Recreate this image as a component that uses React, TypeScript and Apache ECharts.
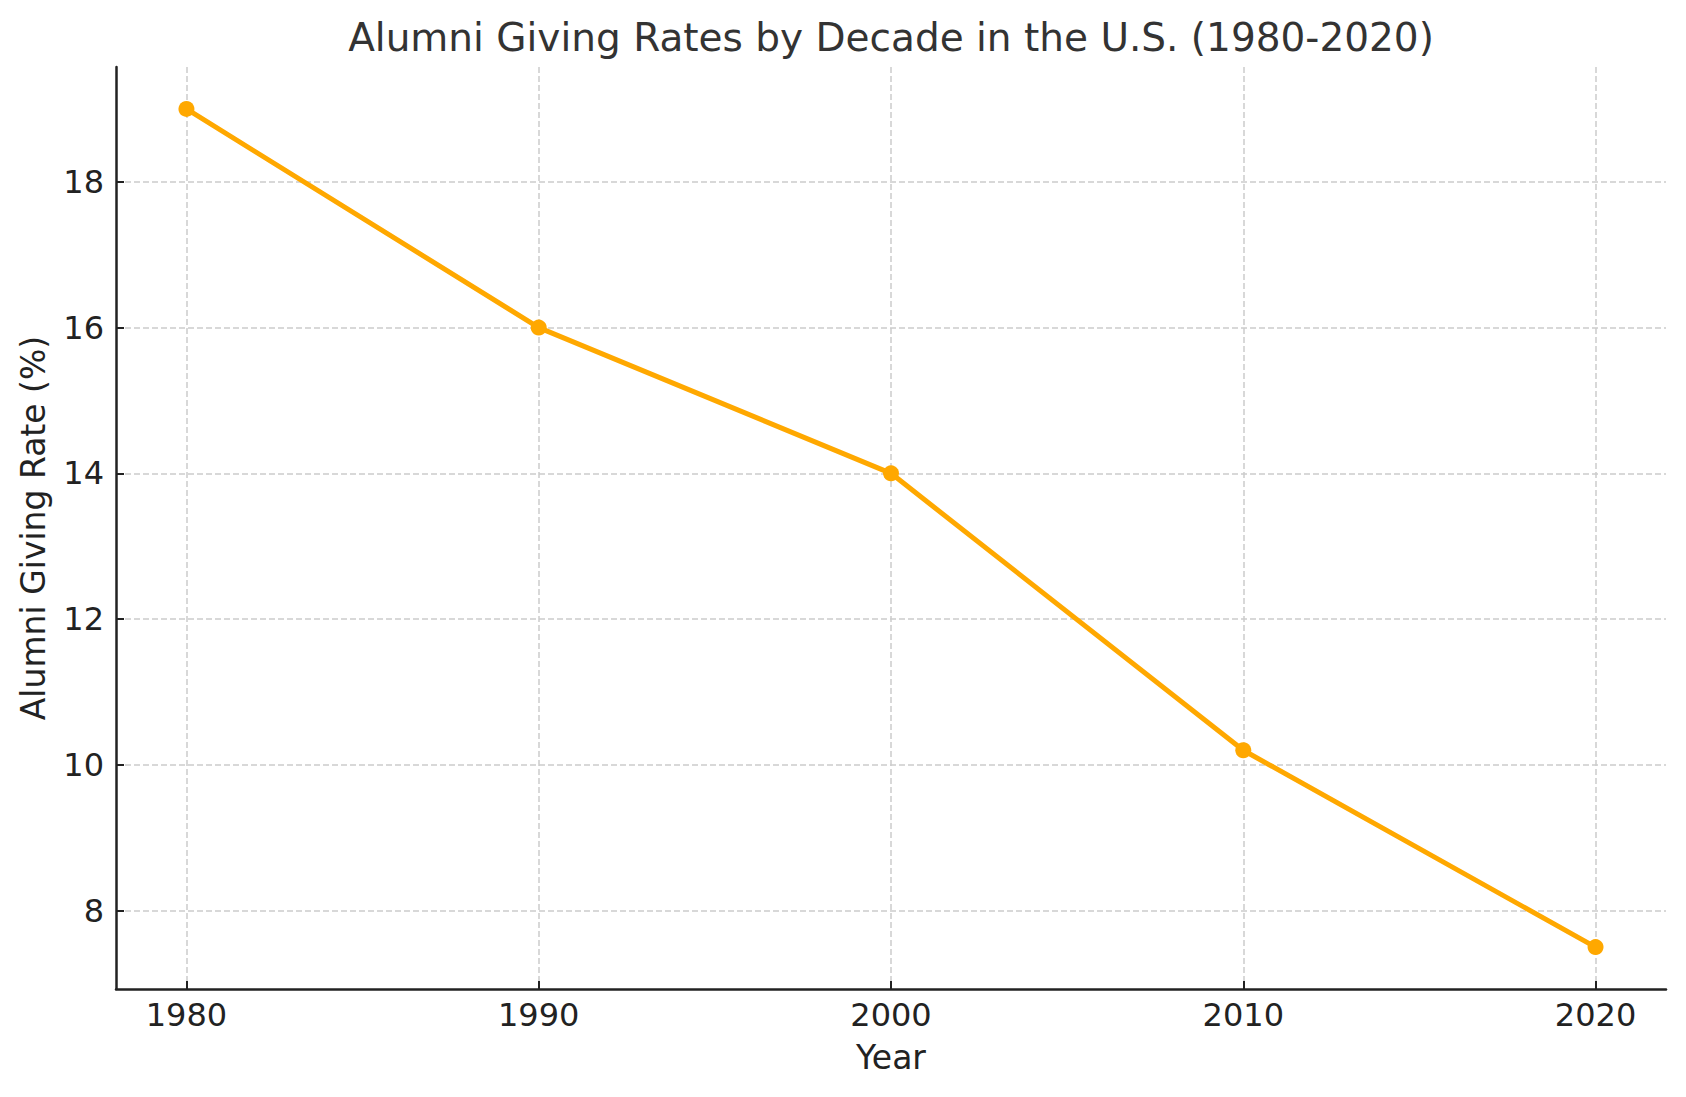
import React, { useEffect, useRef } from "react";
import * as echarts from "echarts";

const years = [1980, 1990, 2000, 2010, 2020];
const rates = [19, 16, 14, 10.2, 7.5];
const xTicks = [1980, 1990, 2000, 2010, 2020];
const yTicks = [8, 10, 12, 14, 16, 18];

const FONT = "DejaVu Sans";

export default function App() {
  const ref = useRef<HTMLDivElement>(null);
  useEffect(() => {
    if (!ref.current) return;
    const chart = echarts.init(ref.current, null, { renderer: "svg" });
    const gridLine = { show: true, lineStyle: { color: "#cccccc", width: 1.5, type: [6, 3] as any } };
    chart.setOption({
      animation: false,
      backgroundColor: "#ffffff",
      graphic: [
        {
          type: "text",
          x: 891,
          y: 37,
          style: {
            text: "Alumni Giving Rates by Decade in the U.S. (1980-2020)",
            textAlign: "center",
            textVerticalAlign: "middle",
            fontSize: 39,
            fontFamily: FONT,
            fill: "#333333",
          },
        },
      ],
      grid: { left: 116, right: 20, top: 67, bottom: 108, containLabel: false },
      xAxis: {
        type: "value",
        min: 1978,
        max: 2022,
        name: "Year",
        nameLocation: "middle",
        nameGap: 52,
        nameTextStyle: { fontSize: 33, fontFamily: FONT, color: "#222222" },
        axisLine: { show: true, onZero: false, lineStyle: { color: "#222222", width: 2.5 } },
        axisTick: { show: true, inside: true, length: 8, customValues: xTicks, lineStyle: { color: "#222222", width: 2 } },
        axisLabel: { customValues: xTicks, fontSize: 32, fontFamily: FONT, color: "#222222", margin: 10, formatter: (v: number) => String(v) },
        splitLine: gridLine,
      },
      yAxis: {
        type: "value",
        min: 6.925,
        max: 19.575,
        name: "Alumni Giving Rate (%)",
        nameLocation: "middle",
        nameGap: 66,
        nameTextStyle: { fontSize: 33, fontFamily: FONT, color: "#222222" },
        axisLine: { show: true, onZero: false, lineStyle: { color: "#222222", width: 2.5 } },
        axisTick: { show: true, inside: true, length: 8, customValues: yTicks, lineStyle: { color: "#222222", width: 2 } },
        axisLabel: { customValues: yTicks, fontSize: 32, fontFamily: FONT, color: "#222222", margin: 12 },
        splitLine: gridLine,
      },
      series: [
        {
          type: "line",
          data: years.map((y, i) => [y, rates[i]]),
          symbol: "circle",
          symbolSize: 16,
          lineStyle: { color: "#FFA800", width: 5 },
          itemStyle: { color: "#FFA800" },
        },
      ],
    });
    return () => chart.dispose();
  }, []);
  return <div ref={ref} style={{ position: "fixed", left: 0, top: 0, width: 1686, height: 1097 }} />;
}
